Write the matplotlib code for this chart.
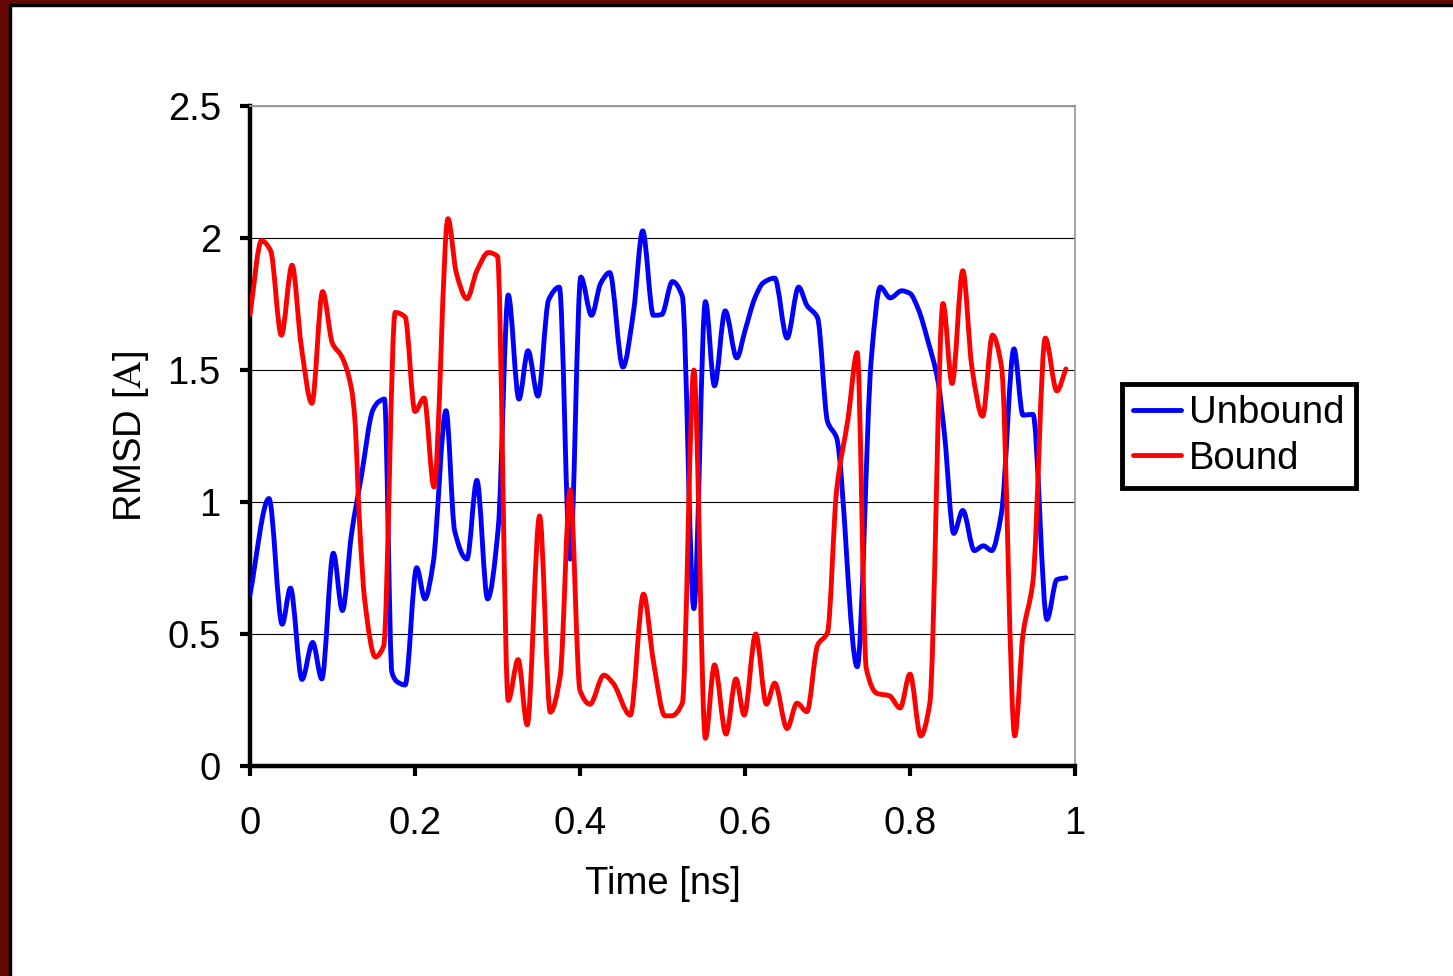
import matplotlib
matplotlib.use("Agg")
from matplotlib import pyplot as plt
from matplotlib.patches import Rectangle, PathPatch
from matplotlib.path import Path
from matplotlib.ticker import FormatStrFormatter
import numpy as np

plt.rcParams['font.family'] = ['Liberation Sans', 'DejaVu Sans']
plt.rcParams['mathtext.fontset'] = 'stix'

# RMSD traces (time in ns, RMSD in A)
unbound_t = [0.0, 0.023, 0.039, 0.049, 0.063, 0.076, 0.087, 0.101, 0.112, 0.123,
             0.135, 0.149, 0.156, 0.163, 0.172, 0.178, 0.188, 0.202, 0.212, 0.222,
             0.2376, 0.248, 0.263, 0.275, 0.288, 0.301, 0.313, 0.326, 0.337, 0.349,
             0.362, 0.375, 0.388, 0.401, 0.414, 0.425, 0.436, 0.452, 0.465, 0.476,
             0.489, 0.499, 0.512, 0.524, 0.538, 0.552, 0.563, 0.576, 0.590, 0.600,
             0.612, 0.622, 0.636, 0.651, 0.665, 0.675, 0.688, 0.700, 0.711, 0.736,
             0.753, 0.764, 0.776, 0.790, 0.800, 0.810, 0.822, 0.834, 0.842, 0.853,
             0.864, 0.878, 0.889, 0.899, 0.911, 0.926, 0.937, 0.949, 0.966, 0.978,
             0.989]
unbound_rmsd = [0.65, 1.013, 0.537, 0.674, 0.328, 0.468, 0.330, 0.806, 0.589, 0.878,
                1.098, 1.349, 1.380, 1.390, 0.355, 0.320, 0.307, 0.751, 0.633, 0.768,
                1.346, 0.892, 0.784, 1.082, 0.633, 0.906, 1.784, 1.390, 1.573, 1.401,
                1.766, 1.814, 0.784, 1.852, 1.707, 1.828, 1.869, 1.511, 1.724, 2.027,
                1.707, 1.710, 1.835, 1.780, 0.596, 1.759, 1.440, 1.724, 1.546, 1.649,
                1.773, 1.830, 1.848, 1.621, 1.814, 1.745, 1.697, 1.305, 1.243, 0.376,
                1.539, 1.814, 1.773, 1.800, 1.790, 1.731, 1.607, 1.456, 1.250, 0.881,
                0.968, 0.816, 0.834, 0.816, 0.961, 1.580, 1.329, 1.332, 0.555, 0.706,
                0.713]

bound_t = [0.0, 0.014, 0.025, 0.038, 0.051, 0.062, 0.075, 0.088, 0.100, 0.111,
           0.123, 0.127, 0.133, 0.139, 0.152, 0.162, 0.176, 0.188, 0.200, 0.211,
           0.223, 0.240, 0.250, 0.263, 0.275, 0.289, 0.300, 0.313, 0.325, 0.336,
           0.351, 0.364, 0.376, 0.388, 0.400, 0.412, 0.429, 0.440, 0.461, 0.477,
           0.489, 0.503, 0.511, 0.524, 0.538, 0.552, 0.563, 0.577, 0.589, 0.599,
           0.613, 0.626, 0.636, 0.651, 0.663, 0.675, 0.688, 0.700, 0.711, 0.725,
           0.736, 0.747, 0.760, 0.775, 0.788, 0.800, 0.813, 0.824, 0.840, 0.851,
           0.864, 0.875, 0.888, 0.900, 0.911, 0.927, 0.937, 0.949, 0.964, 0.978,
           0.989]
bound_rmsd = [1.711, 1.990, 1.952, 1.632, 1.897, 1.594, 1.374, 1.797, 1.600, 1.552,
              1.429, 1.318, 0.906, 0.630, 0.413, 0.454, 1.718, 1.701, 1.343, 1.394,
              1.057, 2.073, 1.869, 1.770, 1.876, 1.945, 1.931, 0.248, 0.403, 0.156,
              0.947, 0.204, 0.341, 1.046, 0.286, 0.234, 0.344, 0.314, 0.193, 0.651,
              0.396, 0.190, 0.190, 0.238, 1.500, 0.105, 0.383, 0.121, 0.330, 0.193,
              0.500, 0.234, 0.314, 0.142, 0.238, 0.206, 0.458, 0.506, 1.043, 1.318,
              1.566, 0.369, 0.275, 0.266, 0.220, 0.348, 0.114, 0.238, 1.752, 1.449,
              1.876, 1.511, 1.325, 1.632, 1.511, 0.114, 0.500, 0.699, 1.621, 1.421,
              1.504]

x_ticks = [0, 0.2, 0.4, 0.6, 0.8, 1]
y_ticks = [0, 0.5, 1, 1.5, 2, 2.5]


def smooth_line(xs, ys):
    # smoothed line drawn as bezier segments through the points (monotone tangents)
    x = np.asarray(xs, float)
    y = np.asarray(ys, float)
    h = np.diff(x)
    d = np.diff(y) / h
    m = np.zeros_like(y)
    m[0], m[-1] = d[0], d[-1]
    for k in range(1, len(x) - 1):
        if d[k - 1] * d[k] > 0:
            w1 = 2 * h[k] + h[k - 1]
            w2 = h[k] + 2 * h[k - 1]
            m[k] = (w1 + w2) / (w1 / d[k - 1] + w2 / d[k])
    verts = [(x[0], y[0])]
    codes = [Path.MOVETO]
    for i in range(len(x) - 1):
        verts += [(x[i] + h[i] / 3, y[i] + m[i] * h[i] / 3),
                  (x[i + 1] - h[i] / 3, y[i + 1] - m[i + 1] * h[i] / 3),
                  (x[i + 1], y[i + 1])]
        codes += [Path.CURVE4] * 3
    return Path(verts, codes)


fig = plt.figure(figsize=(14.53, 9.76), dpi=100)
fig.patch.set_facecolor('white')

# dark red frame on top and left edges
fig.patches.append(Rectangle((0, 0), 9 / 1453, 1, transform=fig.transFigure,
                             color='#640808', zorder=0))
fig.patches.append(Rectangle((0, 1 - 4 / 976), 1, 4 / 976, transform=fig.transFigure,
                             color='#640808', zorder=0))
fig.patches.append(Rectangle((9 / 1453, 0), 2 / 1453, 1 - 4 / 976, transform=fig.transFigure,
                             color='black', zorder=0))
fig.patches.append(Rectangle((9 / 1453, 1 - 6 / 976), 1, 2 / 976, transform=fig.transFigure,
                             color='black', zorder=0))

ax = fig.add_axes([250 / 1453, 210 / 976, 825 / 1453, 660 / 976])
ax.add_patch(PathPatch(smooth_line(unbound_t, unbound_rmsd), fill=False,
                       edgecolor='#0000ff', lw=3.5, joinstyle='round',
                       capstyle='round', zorder=3))
ax.add_patch(PathPatch(smooth_line(bound_t, bound_rmsd), fill=False,
                       edgecolor='#ff0000', lw=3.5, joinstyle='round',
                       capstyle='round', zorder=3))
ax.plot([], [], color='#0000ff', lw=3.5, label='Unbound', solid_capstyle='round')
ax.plot([], [], color='#ff0000', lw=3.5, label='Bound', solid_capstyle='round')

ax.set_xlim(0, 1)
ax.set_ylim(0, 2.5)
ax.set_xticks(x_ticks)
ax.set_yticks(y_ticks)
ax.xaxis.set_major_formatter(FormatStrFormatter('%g'))
ax.yaxis.set_major_formatter(FormatStrFormatter('%g'))
ax.tick_params(axis='both', direction='out', length=7, width=3, labelsize=27.5,
               color='black')
ax.tick_params(axis='x', pad=22)
ax.tick_params(axis='y', pad=14)

ax.grid(axis='y', color='black', lw=0.8, zorder=1)
ax.set_axisbelow(True)

ax.spines['left'].set_linewidth(3.2)
ax.spines['bottom'].set_linewidth(3.2)
ax.spines['top'].set_color('#9a9a9a')
ax.spines['right'].set_color('#9a9a9a')
ax.spines['top'].set_linewidth(1.3)
ax.spines['right'].set_linewidth(1.3)

ax.set_xlabel('Time [ns]', fontsize=27.5)
ax.set_ylabel(r'RMSD [$\mathrm{A}$]', fontsize=27.5)
ax.xaxis.set_label_coords(0.5, -0.179)
ax.xaxis.label.set_va('center')
ax.yaxis.set_label_coords(-0.144, 0.5)
ax.yaxis.label.set_va('center')
ax.yaxis.label.set_ha('center')
ax.yaxis.label.set_rotation_mode('anchor')

leg = fig.legend(loc='center left', bbox_to_anchor=(1122 / 1453, 1 - 436 / 976),
                 fontsize=27.5, frameon=True, fancybox=False, edgecolor='black',
                 framealpha=1, handlelength=1.25, handletextpad=0.2,
                 borderpad=0.3, labelspacing=0.25, borderaxespad=0)
leg.get_frame().set_linewidth(3.5)

fig.savefig('out.png', dpi=100, facecolor='white')
